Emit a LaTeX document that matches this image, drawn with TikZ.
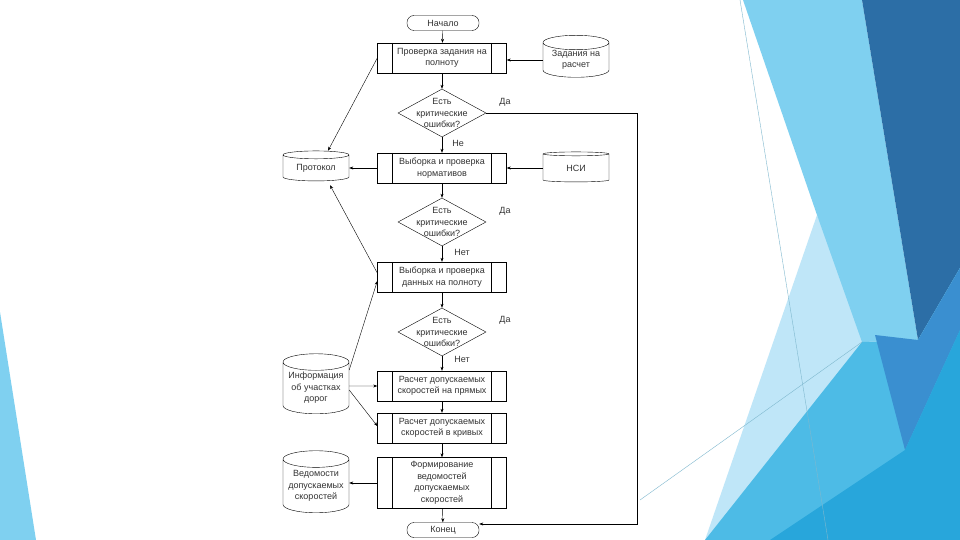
\documentclass[tikz,border=0pt]{standalone}
\usepackage{fontspec}
\setmainfont{Liberation Sans}
\usetikzlibrary{shapes.geometric,arrows.meta}
\definecolor{bgdark}{HTML}{2C6EA6}
\definecolor{bgdeep}{HTML}{3A8FD0}
\definecolor{bglight}{HTML}{7FD0F0}
\definecolor{bgpale}{HTML}{BFE6F8}
\definecolor{bgblue}{HTML}{28A6DB}
\definecolor{bgsea}{HTML}{4DBBE6}

\begin{document}
\begin{tikzpicture}[x=1pt,y=-1pt,
  every node/.style={font=\fontsize{9}{11.5}\selectfont,text=black!80},
  proc/.style={draw,rectangle,minimum width=129pt,minimum height=30pt,inner sep=0pt,align=center,
    path picture={\draw ([xshift=15pt]path picture bounding box.north west) -- ([xshift=15pt]path picture bounding box.south west)
      ([xshift=-15pt]path picture bounding box.north east) -- ([xshift=-15pt]path picture bounding box.south east);}},
  term/.style={draw,rectangle,rounded corners=7pt,minimum width=72pt,minimum height=15pt,inner sep=0pt},
  dec/.style={draw,diamond,minimum width=88pt,minimum height=48pt,inner sep=0pt},
  dbase/.style={draw,cylinder,shape border rotate=90,aspect=0.3,minimum width=66pt,minimum height=30pt,inner sep=0pt,align=center},
  link/.style={-{Stealth[length=4pt,width=3pt]}},
  lbl/.style={inner sep=0pt}]
  \useasboundingbox (0,0) rectangle (960,540);
  % background
  \fill[white] (0,0) rectangle (960,540);
  \fill[bglight] (0,312) -- (36,540) -- (0,540) -- cycle;
  \fill[bgpale] (817,215) -- (870,345) -- (840,540) -- (705,540) -- cycle;
  \fill[bglight] (743,0) -- (862,0) -- (918,340) -- (862,342) -- (817,215) -- cycle;
  \fill[bgdark] (862,0) -- (960,0) -- (960,268) -- (918,340) -- cycle;
  \fill[bgsea] (705,540) -- (862,342) -- (918,340) -- (960,268) -- (960,540) -- cycle;
  \fill[bgdeep] (875,335) -- (918,340) -- (960,268) -- (960,330) -- (905,450) -- cycle;
  \fill[bgblue] (770,540) -- (905,450) -- (960,330) -- (960,540) -- cycle;
  \draw[bglight!70!gray,line width=.4pt] (740,0) -- (828,540);
  \draw[bglight!70!gray,line width=.4pt] (640,500) -- (862,342);

  \node[term] (st) at (443,23) {Начало};
  \node[proc] (b1) at (442,58) {Проверка задания на\\полноту};
  \node[dbase,minimum height=42pt] (zad) at (576,60) {Задания на\\расчет};
  \node[dec,label={[lbl,align=center]center:Есть\\критические\\ошибки?}] (d1) at (442,113) {};
  \node[proc] (b2) at (442,168) {Выборка и проверка\\нормативов};
  \node[dbase,aspect=0.2] (nsi) at (576,168) {НСИ};
  \node[dbase,aspect=0.2] (prot) at (316,168) {Протокол};
  \node[dec,label={[lbl,align=center]center:Есть\\критические\\ошибки?}] (d2) at (442,222) {};
  \node[proc] (b3) at (442,277) {Выборка и проверка\\данных на полноту};
  \node[dec,label={[lbl,align=center]center:Есть\\критические\\ошибки?}] (d3) at (442,332) {};
  \node[dbase,minimum height=60pt] (info) at (316,388) {Информация\\об участках\\дорог};
  \node[proc] (b4) at (442,386) {Расчет допускаемых\\скоростей на прямых};
  \node[proc] (b5) at (442,428) {Расчет допускаемых\\скоростей в кривых};
  \node[proc,minimum height=51pt] (b6) at (442,483) {Формирование\\ведомостей\\допускаемых\\скоростей};
  \node[dbase,minimum height=62pt] (ved) at (316,486) {Ведомости\\допускаемых\\скоростей};
  \node[term] (kon) at (443,530) {Конец};
  \coordinate (rt) at (637,300);

  \node[lbl] (da1) at (505,102) {Да};
  \node[lbl] (da2) at (505,211) {Да};
  \node[lbl] (da3) at (505,320) {Да};
  \node[lbl] (ne1) at (458,143) {Не};
  \node[lbl] (ne2) at (462,252) {Нет};
  \node[lbl] (ne3) at (462,359) {Нет};

  \draw[link] (st) -- (b1);
  \draw[link] (b1) -- (d1);
  \draw[link] (d1) -- (b2);
  \draw[link] (b2) -- (d2);
  \draw[link] (d2) -- (b3);
  \draw[link] (b3) -- (d3);
  \draw[link] (d3) -- (b4);
  \draw[link] (b4) -- (b5);
  \draw[link] (b5) -- (b6);
  \draw[link] (b6) -- (kon);
  \draw[link] (d1.east) -| (rt) |- ([yshift=6pt]kon.east);

  \draw[link] (zad.west) -- (zad.west -| b1.east);
  \draw[link] (nsi.west) -- (nsi.west -| b2.east);
  \draw[link] (b2.west) -- (b2.west -| prot.east);
  \draw[link] (b1.west) -- ([xshift=12pt]prot.north);
  \draw[link] ([yshift=4pt]b3.west) -- ([xshift=14pt,yshift=-4pt]prot.south);
  \draw[link] ([yshift=18pt]info.east) -- ([yshift=-4pt]b3.west);
  \draw[link] ([yshift=2pt]info.east) -- (b4.west);
  \draw[link] ([yshift=-2pt]info.east) -- ([yshift=2pt]b5.west);
  \draw[link] (b6.west) -- (b6.west -| ved.east);
\end{tikzpicture}
\end{document}
